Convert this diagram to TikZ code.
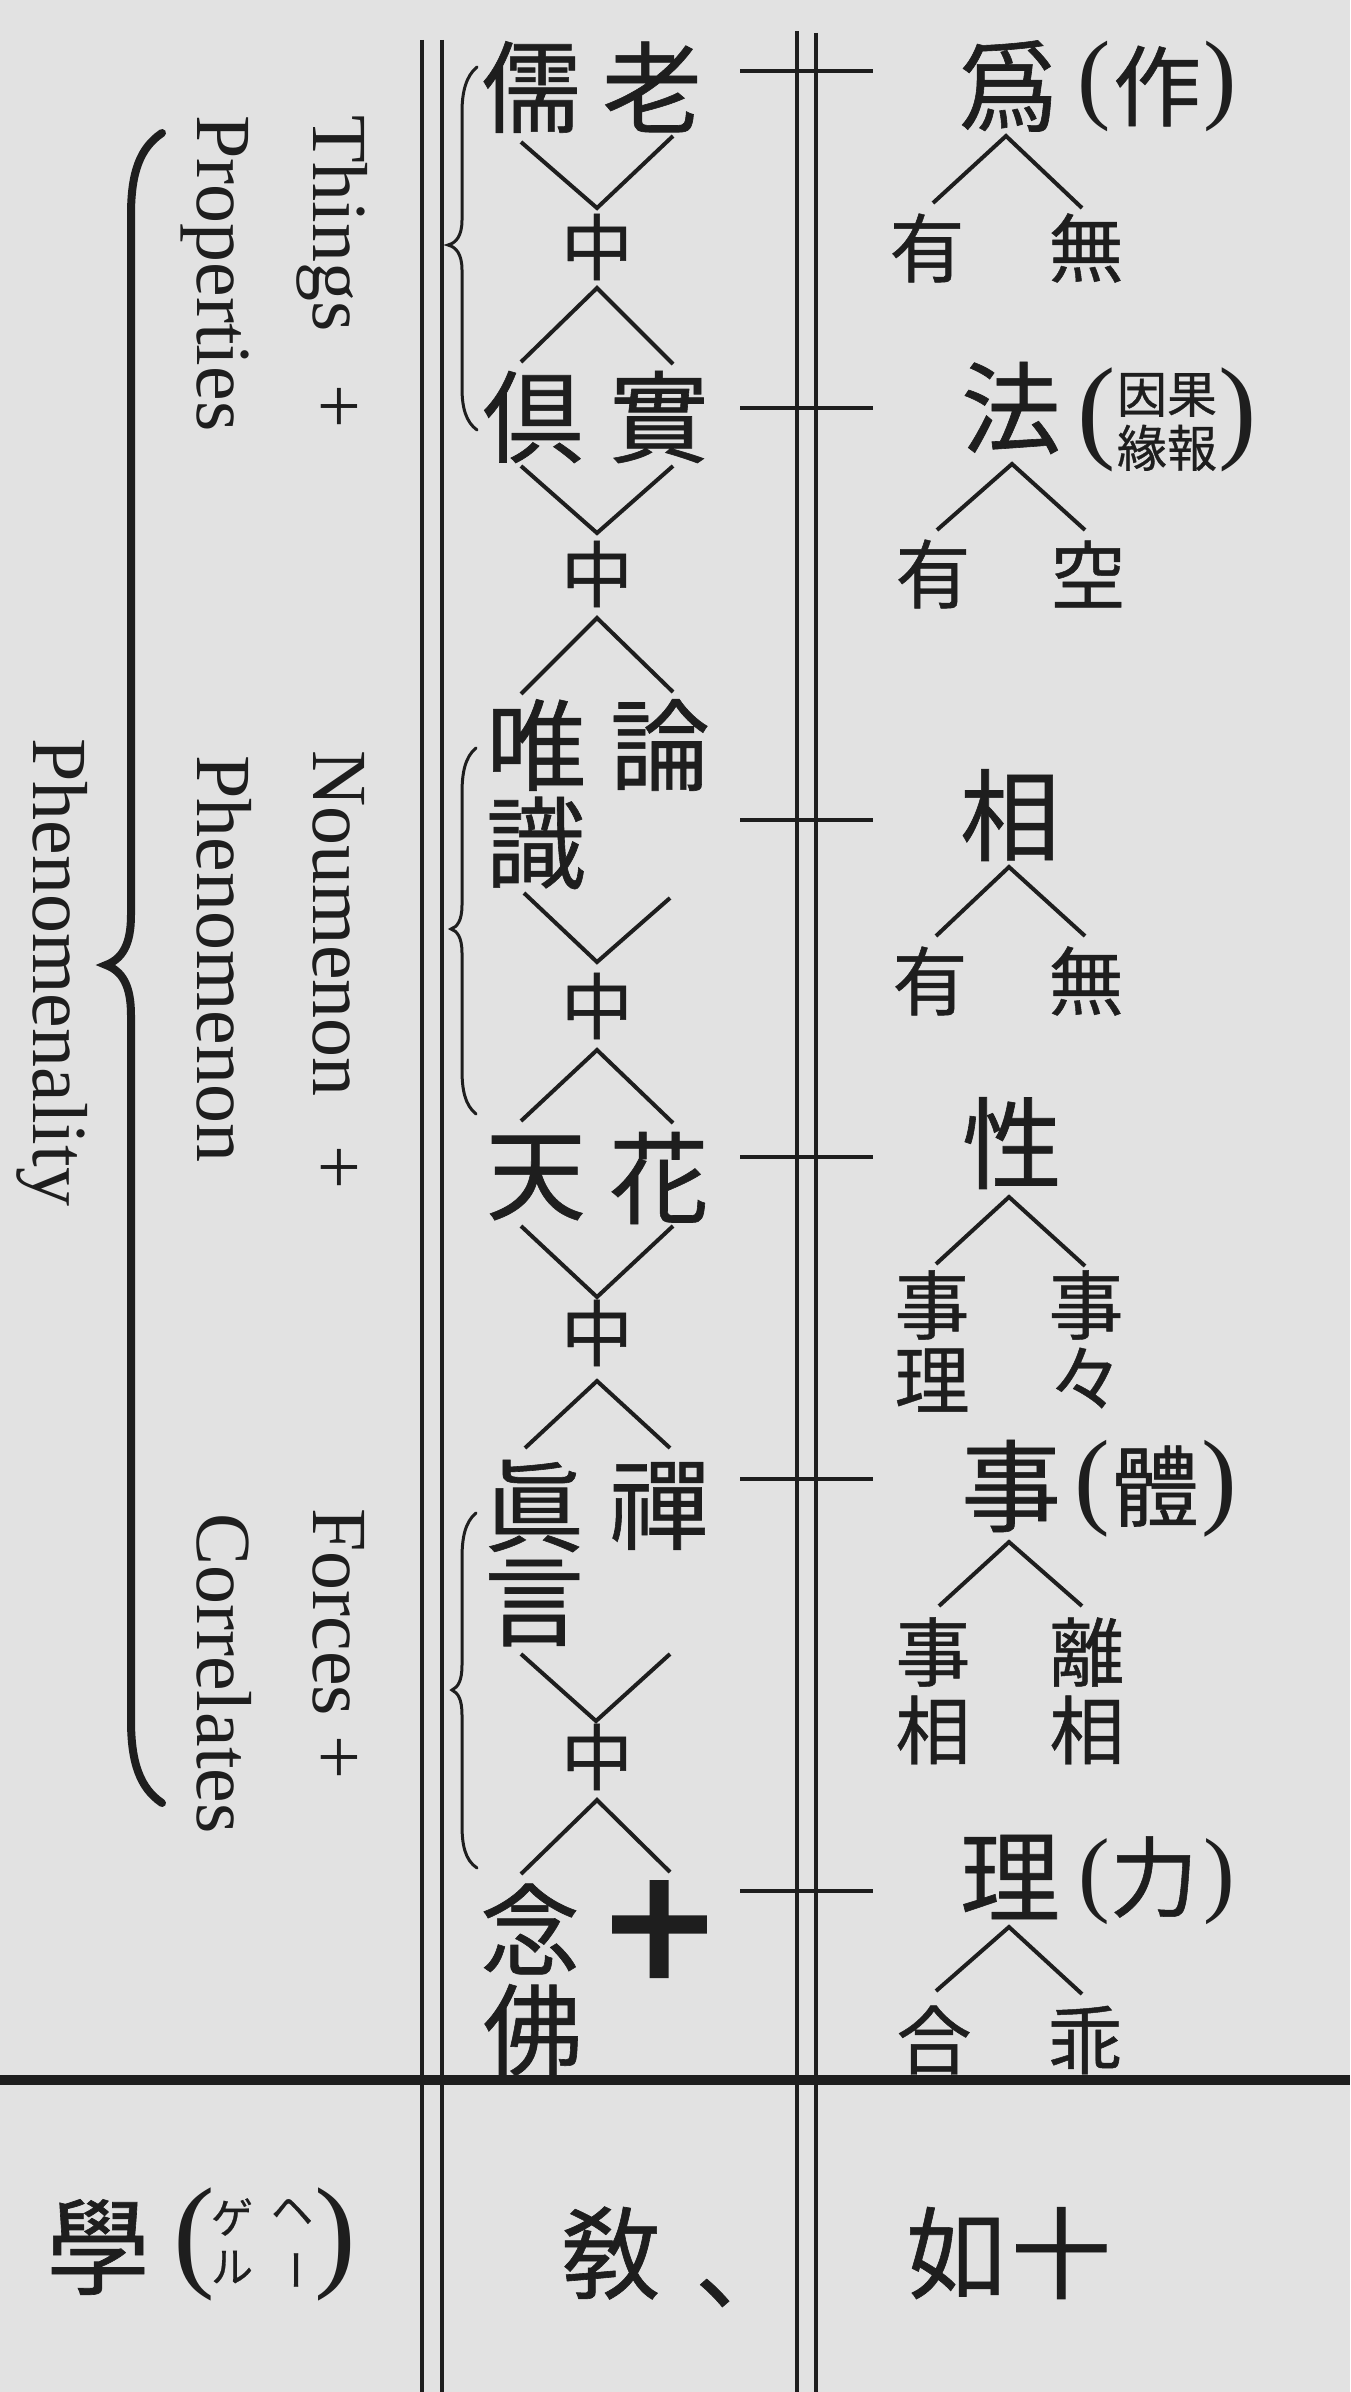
\documentclass[tikz,border=0pt]{standalone}
\usepackage{fontspec}
\setmainfont{Liberation Serif}
\newfontfamily\cjk{Noto Sans CJK JP}[FakeBold=0.6]
\newfontfamily\cjkheavy{Noto Sans CJK JP}[FakeBold=3]
\newfontfamily\parf{Liberation Serif}
\definecolor{ink}{RGB}{30,30,30}
\definecolor{paper}{RGB}{226,226,226}
\tikzset{
  big/.style={font=\cjk\fontsize{100}{100}\selectfont, inner sep=0pt, text=ink},
  mid/.style={font=\cjk\fontsize{88}{88}\selectfont, inner sep=0pt, text=ink},
  zh/.style={font=\cjk\fontsize{72}{72}\selectfont, inner sep=0pt, text=ink},
  sm/.style={font=\cjk\fontsize{75}{75}\selectfont, inner sep=0pt, text=ink},
  tn/.style={font=\cjk\fontsize{50}{54}\selectfont, inner sep=0pt, text=ink, align=center},
  kana/.style={font=\cjk\fontsize{42}{42}\selectfont, inner sep=0pt, text=ink},
  pn/.style={font=\parf\fontsize{#1}{#1}\selectfont, inner sep=0pt, text=ink},
  en/.style={font=\fontsize{78}{78}\selectfont, inner sep=0pt, text=ink, rotate=-90, anchor=base west},
  rule/.style={draw=ink, line width=3.5pt},
  link/.style={draw=ink, line width=4pt, line join=miter},
  tick/.style={draw=ink, line width=4.5pt},
  brace/.style={draw=ink, line width=3pt, line cap=round},
}
\begin{document}
\begin{tikzpicture}[x=1pt,y=-1pt]
\fill[paper] (0,0) rectangle (1350,2392);
\useasboundingbox (0,0) rectangle (1350,2392);

% ---- vertical double rules ----
\coordinate (a1t) at (422,40);  \coordinate (a1b) at (422,2392);
\coordinate (a2t) at (442,40);  \coordinate (a2b) at (442,2392);
\coordinate (b1t) at (797,31);  \coordinate (b1b) at (797,2392);
\coordinate (b2t) at (816,33);  \coordinate (b2b) at (816,2392);
\draw[rule] (a1t) -- (a1b);
\draw[rule] (a2t) -- (a2b);
\draw[rule] (b1t) -- (b1b);
\draw[rule] (b2t) -- (b2b);

% ---- thick horizontal rule ----
\coordinate (hl) at (0,2080); \coordinate (hr) at (1350,2080);
\draw[ink, line width=10pt] (hl) -- (hr);

% ---- ticks across the middle rules ----
\foreach \i/\y in {1/71,2/408,3/820,4/1157,5/1479,6/1891}{
  \coordinate (t\i a) at (740,\y); \coordinate (t\i b) at (873,\y);
  \draw[tick] (t\i a) -- (t\i b);
}

% ---- middle column characters ----
\node[big] (ru)   at (531,87)   {儒};
\node[big] (lao)  at (652,87)   {老};
\node[zh]  (z1)   at (597,247)  {中};
\node[big] (ju)   at (533,417)  {倶};
\node[big] (shi)  at (659,417)  {實};
\node[zh]  (z2)   at (597,574)  {中};
\node[big] (wei)  at (536,745)  {唯};
\node[big] (lun)  at (660,745)  {論};
\node[big] (shik) at (536,843)  {識};
\node[zh]  (z3)   at (597,1006) {中};
\node[big] (tian) at (536,1178) {天};
\node[big] (hua)  at (659,1178) {花};
\node[zh]  (z4)   at (597,1333) {中};
\node[big] (zhen) at (534,1506) {眞};
\node[big] (chan) at (659,1506) {禪};
\node[big] (yan)  at (534,1603) {言};
\node[zh]  (z5)   at (597,1757) {中};
\node[big] (nian) at (530,1929) {念};
\node[big, font=\cjkheavy\bfseries\fontsize{100}{100}\selectfont] (jue) at (659,1929) {十};
\node[big] (fo)   at (533,2030) {佛};

% ---- connectors (V and Λ shapes) ----
\coordinate (v1l) at (521,142);  \coordinate (v1m) at (597,208);  \coordinate (v1r) at (673,136);
\coordinate (w1m) at (597,288);  \coordinate (w1l) at (521,362);  \coordinate (w1r) at (673,364);
\coordinate (v2l) at (521,466);  \coordinate (v2m) at (597,533);  \coordinate (v2r) at (673,466);
\coordinate (w2m) at (597,618);  \coordinate (w2l) at (521,694);  \coordinate (w2r) at (673,692);
\coordinate (v3l) at (524,893);  \coordinate (v3m) at (597,962);  \coordinate (v3r) at (670,898);
\coordinate (w3m) at (597,1050); \coordinate (w3l) at (521,1121); \coordinate (w3r) at (673,1123);
\coordinate (v4l) at (521,1226); \coordinate (v4m) at (597,1297); \coordinate (v4r) at (673,1226);
\coordinate (w4m) at (597,1381); \coordinate (w4l) at (525,1448); \coordinate (w4r) at (670,1448);
\coordinate (v5l) at (521,1654); \coordinate (v5m) at (596,1721); \coordinate (v5r) at (670,1654);
\coordinate (w5m) at (597,1800); \coordinate (w5l) at (521,1874); \coordinate (w5r) at (670,1872);
\foreach \k in {1,...,5}{
  \draw[link] (v\k l) -- (v\k m) -- (v\k r);
  \draw[link] (w\k l) -- (w\k m) -- (w\k r);
}

% ---- right column ----
\node[big] (wei2) at (1008,86) {爲};
\node[pn=100] (p1l) at (1094,86) {(};
\node[mid] (zuo) at (1157,86) {作};
\node[pn=100] (p1r) at (1220,86) {)};
\node[sm] (you1) at (927,248) {有};
\node[sm] (wu1) at (1086,248) {無};

\node[big] (fa) at (1011,408) {法};
\node[pn=115] (p2l) at (1097,420) {(};
\node[tn] (yg) at (1167,422) {因果\\緣報};
\node[pn=115] (p2r) at (1238,420) {)};
\node[sm] (you2) at (933,574) {有};
\node[sm] (kong) at (1088,574) {空};

\node[big] (xiang) at (1010,815) {相};
\node[sm] (you3) at (930,981) {有};
\node[sm] (wu3) at (1086,981) {無};

\node[big] (xing) at (1012,1143) {性};
\node[sm] (sl) at (932,1305) {事};
\node[sm] (ll) at (932,1380) {理};
\node[sm] (sr) at (1086,1305) {事};
\node[sm] (dd) at (1086,1378) {々};

\node[big] (shi5) at (1011,1486) {事};
\node[pn=107] (p5l) at (1092,1489) {(};
\node[mid] (ti) at (1155,1486) {體};
\node[pn=107] (p5r) at (1219,1489) {)};
\node[sm] (sx1) at (933,1652) {事};
\node[sm] (sx2) at (933,1730) {相};
\node[sm] (lx1) at (1087,1652) {離};
\node[sm] (lx2) at (1087,1730) {相};

\node[big] (li) at (1010,1877) {理};
\node[pn=95] (p6l) at (1094,1882) {(};
\node[mid] (liki) at (1154,1877) {力};
\node[pn=95] (p6r) at (1219,1882) {)};
\node[sm] (he) at (934,2040) {合};
\node[sm] (guai) at (1085,2040) {乖};

\foreach \k/\ax/\ay/\lx/\ly/\rx/\ry in {1/1006/136/933/203/1082/208, 2/1012/464/937/530/1085/530, 3/1009/867/936/936/1085/936, 4/1009/1197/936/1264/1085/1266, 5/1009/1542/939/1606/1082/1606, 6/1009/1927/936/1991/1082/1994}{
  \coordinate (r\k m) at (\ax,\ay); \coordinate (r\k l) at (\lx,\ly); \coordinate (r\k r) at (\rx,\ry);
  \draw[link] (r\k l) -- (r\k m) -- (r\k r);
}

% ---- small braces ----
\draw[brace] (477,67) .. controls (466,76) and (462,92) .. (462,112) -- (462,220) .. controls (462,236) and (456,243) .. (448,245) .. controls (456,247) and (462,254) .. (462,270) -- (462,388) .. controls (462,408) and (466,422) .. (477,430);
\draw[brace] (476,748) .. controls (465,757) and (462,773) .. (462,793) -- (462,905) .. controls (462,921) and (457,927) .. (451,929) .. controls (457,931) and (462,937) .. (462,953) -- (462,1070) .. controls (462,1090) and (465,1105) .. (476,1114);
\draw[brace] (476,1513) .. controls (465,1522) and (462,1538) .. (462,1558) -- (462,1665) .. controls (462,1681) and (458,1687) .. (452,1690) .. controls (458,1693) and (462,1699) .. (462,1715) -- (462,1825) .. controls (462,1845) and (465,1860) .. (477,1868);

% ---- big brace ----
\draw[ink, line width=8pt, line cap=round] (162,133) .. controls (140,148) and (131,172) .. (131,215) -- (131,915) .. controls (131,945) and (122,959) .. (106,965) .. controls (122,971) and (131,985) .. (131,1015) -- (131,1720) .. controls (131,1763) and (140,1788) .. (162,1803);

% ---- English labels ----
\node[en] (things) at (313,115) {Things\hspace{0.68em}+};
\node[en] (props)  at (197,115) {Properties};
\node[en] (noum)   at (313,750) {Noumenon\hspace{0.62em}+};
\node[en] (phen)   at (197,755) {Phenomenon};
\node[en] (phty)   at (33,738)  {Phenomenality};
\node[en] (forces) at (313,1508) {Forces +};
\node[en] (corr)   at (197,1513) {Correlates};

% ---- bottom row ----
\node[big, font=\cjk\fontsize{105}{105}\selectfont] (xue) at (98,2247) {學};
\node[pn=125] (p7l) at (194,2244) {(};
\node[kana] (ge) at (232,2217) {ゲ};
\node[kana] (ru2) at (232,2267) {ル};
\node[kana] (he2) at (292,2212) {ヘ};
\node[kana, rotate=-90] (bar) at (289,2270) {ー};
\node[pn=125] (p7r) at (335,2244) {)};
\node[big] (jiao) at (611,2253) {敎};
\node[big] (dou) at (745,2293) {、};
\node[big] (ru3) at (956,2253) {如};
\node[big] (shi3) at (1061,2253) {十};
\end{tikzpicture}
\end{document}
